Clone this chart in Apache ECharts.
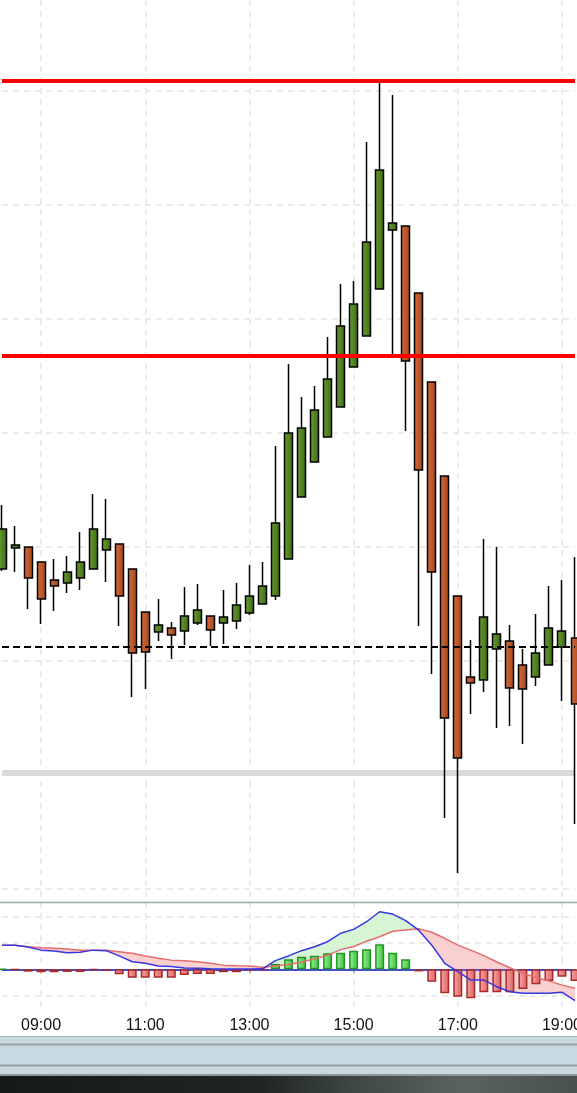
<!DOCTYPE html>
<html>
<head>
<meta charset="utf-8">
<title>15m candles + MACD</title>
<script src="https://cdn.jsdelivr.net/npm/echarts@6.0.0/dist/echarts.min.js"></script>
<style>
  html, body { margin: 0; padding: 0; background: #fff; }
  #chart { width: 577px; height: 1093px; }
</style>
</head>
<body>
<div id="chart"></div>
<script>
// 15-minute bars, 08:15 .. 19:15
const times = [
  '08:15', '08:30', '08:45', '09:00', '09:15', '09:30', '09:45', '10:00', '10:15', '10:30',
  '10:45', '11:00', '11:15', '11:30', '11:45', '12:00', '12:15', '12:30', '12:45', '13:00',
  '13:15', '13:30', '13:45', '14:00', '14:15', '14:30', '14:45', '15:00', '15:15', '15:30',
  '15:45', '16:00', '16:15', '16:30', '16:45', '17:00', '17:15', '17:30', '17:45', '18:00',
  '18:15', '18:30', '18:45', '19:00', '19:15'
]

const opens = [
  118.05, 119.89, 119.98, 118.67, 117.09, 116.83, 117.27, 118.05, 119.72, 120.24,
  118.05, 114.29, 112.53, 112.88, 112.62, 113.32, 113.93, 113.32, 113.50, 114.20,
  114.99, 115.69, 118.93, 124.36, 127.43, 129.62, 132.25, 135.76, 138.47, 142.59,
  147.76, 148.11, 142.24, 134.44, 126.20, 115.69, 108.59, 108.33, 111.04, 111.74,
  109.64, 108.59, 109.64, 111.22, 112.01
]
const closes = [
  121.56, 120.16, 117.27, 115.42, 116.56, 117.79, 118.67, 121.56, 120.68, 115.69,
  110.69, 110.78, 113.15, 112.27, 113.93, 114.46, 112.71, 113.85, 114.90, 115.69,
  116.56, 122.09, 129.97, 130.41, 131.99, 134.71, 139.35, 141.28, 146.71, 153.02,
  148.38, 136.28, 126.73, 117.79, 105.00, 101.49, 108.06, 113.85, 112.36, 107.62,
  107.54, 110.69, 112.88, 112.62, 106.22
]
const lows = [
  117.88, 117.79, 114.55, 113.23, 114.37, 115.95, 116.21, 118.05, 116.91, 113.06,
  106.84, 107.54, 111.74, 110.17, 111.39, 113.15, 111.31, 111.48, 112.80, 114.02,
  114.99, 115.34, 118.93, 124.36, 127.43, 129.62, 132.25, 135.76, 138.47, 142.59,
  136.81, 130.15, 113.06, 108.85, 96.23, 91.41, 105.35, 107.27, 104.12, 104.29,
  102.72, 107.80, 109.64, 106.49, 95.71
]
const highs = [
  123.66, 121.82, 119.98, 118.67, 118.93, 119.19, 121.30, 124.63, 124.19, 120.24,
  118.05, 114.29, 115.42, 113.41, 116.48, 116.74, 113.93, 116.21, 116.83, 118.40,
  118.67, 128.83, 136.02, 133.13, 134.09, 138.39, 143.03, 143.29, 155.48, 160.82,
  159.60, 148.11, 142.24, 134.44, 126.20, 115.69, 111.83, 120.68, 119.98, 113.15,
  111.04, 114.11, 116.56, 117.09, 119.11
]

// horizontal levels
const resistanceHigh = 160.88
const resistanceLow = 136.72
const pivotLevel = 111.24
const supportLevel = 100.18

// MACD panel
const macdLine = [
  0.92, 0.92, 0.85, 0.73, 0.70, 0.63, 0.65, 0.73, 0.71, 0.51,
  0.29, 0.23, 0.13, 0.11, 0.05, 0.04, 0.02, 0.01, 0.01, 0.01,
  0.02, 0.33, 0.51, 0.71, 0.86, 1.05, 1.37, 1.52, 1.81, 2.19,
  2.10, 1.85, 1.49, 0.92, 0.23, -0.09, -0.41, -0.41, -0.66, -0.85,
  -0.91, -0.91, -0.91, -0.87, -1.19
]
const signalLine = [
  0.92, 0.92, 0.86, 0.82, 0.80, 0.77, 0.73, 0.73, 0.73, 0.67,
  0.61, 0.51, 0.42, 0.35, 0.33, 0.29, 0.23, 0.16, 0.14, 0.13,
  0.08, 0.13, 0.18, 0.27, 0.40, 0.53, 0.75, 0.87, 1.07, 1.24,
  1.45, 1.50, 1.54, 1.41, 1.18, 0.92, 0.73, 0.52, 0.28, 0.06,
  -0.15, -0.31, -0.44, -0.60, -0.72
]
const histogram = [
  0.01, -0.01, -0.09, -0.11, -0.11, -0.10, -0.10, -0.02, -0.06, -0.19,
  -0.32, -0.32, -0.32, -0.32, -0.22, -0.18, -0.18, -0.11, -0.11, -0.06,
  -0.01, 0.20, 0.38, 0.48, 0.52, 0.61, 0.63, 0.71, 0.76, 0.95,
  0.63, 0.38, -0.08, -0.47, -0.91, -1.04, -1.10, -0.87, -0.87, -0.87,
  -0.75, -0.57, -0.44, -0.28, -0.44
]

const labelEvery = (idx) => idx % 8 === 3

function grad(from, to) {
  return {
    type: 'linear', x: 0, y: 0, x2: 1, y2: 0,
    colorStops: [{ offset: 0, color: from }, { offset: 1, color: to }]
  }
}

function hLine(y, stroke, width) {
  return {
    type: 'line', silent: true, z: 10,
    shape: { x1: 0, y1: y, x2: 577, y2: y },
    style: { stroke, lineWidth: width }
  }
}

const dashedGrid = { color: '#ebebeb', width: 2, type: [6, 5] }

const candles = opens.map((o, i) => [o, closes[i], lows[i], highs[i]])
const fillBase = macdLine.map((m, i) => Math.min(m, signalLine[i]))
const fillBull = macdLine.map((m, i) => Math.max(m - signalLine[i], 0))
const fillBear = macdLine.map((m, i) => Math.max(signalLine[i] - m, 0))
const histBars = histogram.map((v) => ({
  value: v,
  itemStyle: v >= 0
    ? { color: grad('#9af09a', '#3cbf3c'), borderColor: '#1f961f', borderWidth: 1.5 }
    : { color: grad('#f6a8a8', '#df5f5f'), borderColor: '#a62a2a', borderWidth: 1.5 }
}))

const chart = echarts.init(document.getElementById('chart'))

chart.setOption({
  animation: false,
  backgroundColor: '#fff',
  grid: [
    { left: 2, right: 2, top: 0, height: 902, outerBoundsMode: 'none', containLabel: false },
    { left: 2, right: 2, top: 902, height: 106, outerBoundsMode: 'none', containLabel: false }
  ],
  xAxis: [
    {
      type: 'category', gridIndex: 0, data: times, boundaryGap: false,
      axisLine: { show: false }, axisTick: { show: false }, axisLabel: { show: false },
      splitLine: { show: true, interval: labelEvery, lineStyle: dashedGrid }
    },
    {
      type: 'category', gridIndex: 1, data: times, boundaryGap: false,
      axisLine: { lineStyle: { color: '#9aa8a8', width: 2 } },
      axisTick: { interval: labelEvery, length: 4, lineStyle: { color: '#9aa8a8', width: 1.5 } },
      axisLabel: {
        interval: labelEvery, color: '#111', fontFamily: 'Liberation Sans', fontSize: 16, margin: 10
      },
      splitLine: { show: true, interval: labelEvery, lineStyle: dashedGrid }
    }
  ],
  yAxis: [
    {
      type: 'value', gridIndex: 0, min: 88.87, max: 167.92, splitNumber: 8, scale: true,
      axisLine: { show: false }, axisTick: { show: false }, axisLabel: { show: false },
      splitLine: { show: true, showMinLine: false, showMaxLine: false, lineStyle: dashedGrid }
    },
    {
      type: 'value', gridIndex: 1, min: -1.47, max: 2.56, splitNumber: 4,
      axisLine: { show: false }, axisTick: { show: false }, axisLabel: { show: false },
      splitLine: { show: true, showMinLine: false, showMaxLine: false, lineStyle: dashedGrid }
    }
  ],
  series: [
    {
      // gray support level sits under the candles
      name: 'support', type: 'line', xAxisIndex: 0, yAxisIndex: 0, data: [],
      markLine: {
        silent: true, symbol: ['none', 'none'], z: 1, label: { show: false },
        data: [{ yAxis: supportLevel, lineStyle: { color: '#d9d9d9', width: 6, type: 'solid' } }]
      }
    },
    {
      name: 'price', type: 'candlestick', xAxisIndex: 0, yAxisIndex: 0,
      data: candles, barWidth: 8.5, clip: false, z: 2,
      itemStyle: {
        color: grad('#6c9e36', '#3b6911'),
        color0: grad('#d46d3b', '#a5441b'),
        borderColor: '#000',
        borderColor0: '#000',
        borderWidth: 1.5
      },
      markLine: {
        silent: true, symbol: ['none', 'none'], label: { show: false },
        data: [
          { yAxis: resistanceHigh, lineStyle: { color: '#ff0000', width: 4, type: 'solid' } },
          { yAxis: resistanceLow, lineStyle: { color: '#ff0000', width: 4, type: 'solid' } },
          { yAxis: pivotLevel, lineStyle: { color: '#000', width: 2, type: [7, 4] } }
        ]
      }
    },
    // shaded band between MACD and signal
    {
      name: 'baseBull', type: 'line', xAxisIndex: 1, yAxisIndex: 1, data: fillBase,
      stack: 'bull', stackStrategy: 'all', showSymbol: false, lineStyle: { width: 0, opacity: 0 }, z: 1
    },
    {
      name: 'fillBull', type: 'line', xAxisIndex: 1, yAxisIndex: 1, data: fillBull,
      stack: 'bull', stackStrategy: 'all', showSymbol: false, lineStyle: { width: 0, opacity: 0 },
      areaStyle: { color: '#d5f5d5', opacity: 1 }, z: 1
    },
    {
      name: 'baseBear', type: 'line', xAxisIndex: 1, yAxisIndex: 1, data: fillBase,
      stack: 'bear', stackStrategy: 'all', showSymbol: false, lineStyle: { width: 0, opacity: 0 }, z: 1
    },
    {
      name: 'fillBear', type: 'line', xAxisIndex: 1, yAxisIndex: 1, data: fillBear,
      stack: 'bear', stackStrategy: 'all', showSymbol: false, lineStyle: { width: 0, opacity: 0 },
      areaStyle: { color: '#f8d0d0', opacity: 1 }, z: 1
    },
    {
      name: 'hist', type: 'bar', xAxisIndex: 1, yAxisIndex: 1, data: histBars,
      barWidth: 9, clip: false, z: 3,
      markLine: {
        silent: true, symbol: ['none', 'none'], z: 2, label: { show: false },
        data: [{ yAxis: 0, lineStyle: { color: '#2e2ed6', width: 1.5, type: 'solid' } }]
      }
    },
    {
      name: 'signal', type: 'line', xAxisIndex: 1, yAxisIndex: 1, data: signalLine,
      showSymbol: false, lineStyle: { color: '#e36d6d', width: 1.5 }, z: 4
    },
    {
      name: 'macd', type: 'line', xAxisIndex: 1, yAxisIndex: 1, data: macdLine,
      showSymbol: false, lineStyle: { color: '#3636e0', width: 1.5 }, z: 5
    }
  ],
  graphic: [
    hLine(902.5, '#9aa8a8', 1.5),
    // status strip under the time axis
    {
      type: 'rect', silent: true, z: 9,
      shape: { x: 0, y: 1036, width: 577, height: 40 },
      style: { fill: '#c9d9e1' }
    },
    hLine(1036.5, '#a9b3b7', 1),
    hLine(1044.5, '#98a3a8', 2),
    hLine(1065.5, '#98a3a8', 2),
    hLine(1075, '#8d979b', 2),
    {
      type: 'rect', silent: true, z: 9,
      shape: { x: 0, y: 1076, width: 577, height: 17 },
      style: {
        fill: {
          type: 'linear', x: 0, y: 0, x2: 1, y2: 0,
          colorStops: [
            { offset: 0, color: '#151919' },
            { offset: 0.45, color: '#1f2525' },
            { offset: 0.62, color: '#3f4747' },
            { offset: 0.8, color: '#5a6262' },
            { offset: 1, color: '#485050' }
          ]
        }
      }
    }
  ]
})
</script>
</body>
</html>
